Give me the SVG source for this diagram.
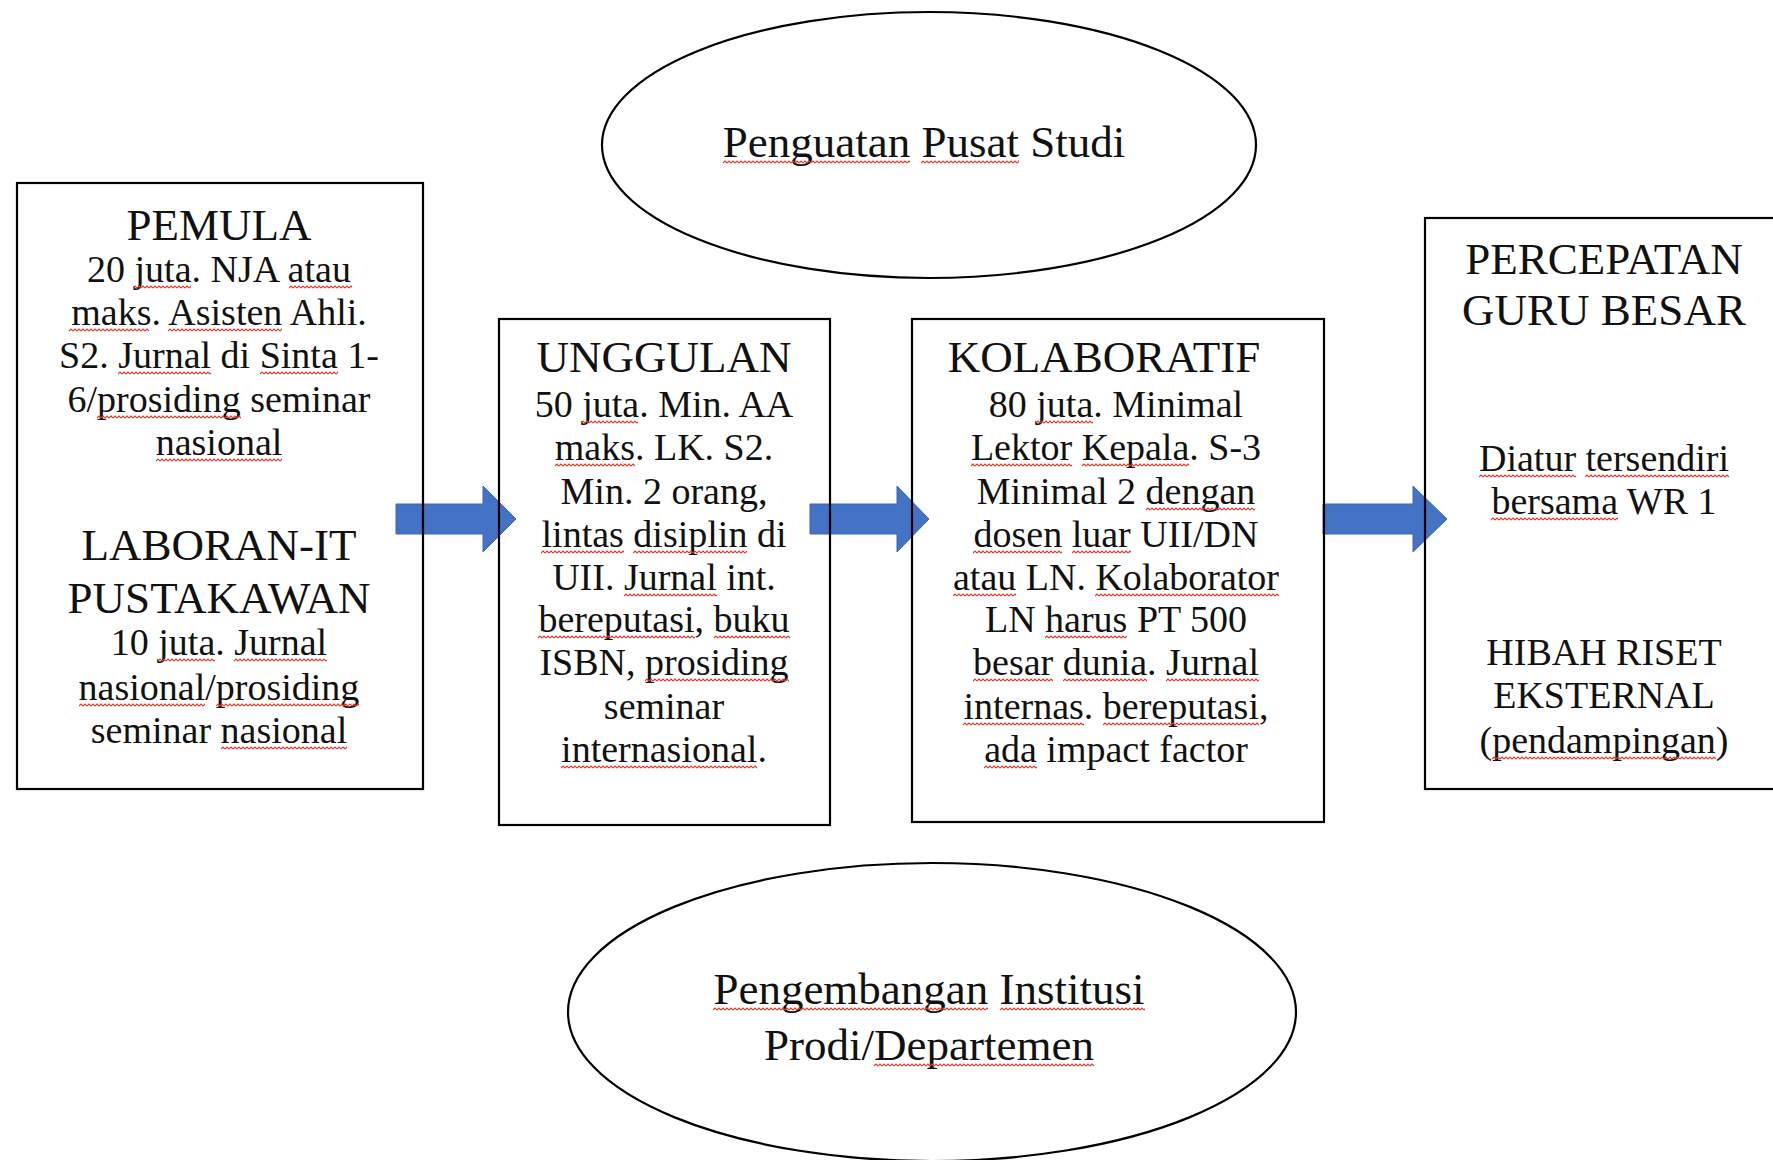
<svg xmlns="http://www.w3.org/2000/svg" width="1773" height="1160" viewBox="0 0 1773 1160">
<defs>
<pattern id="wave" width="4" height="4" patternUnits="userSpaceOnUse">
<polyline points="0,3 2,1 4,3" fill="none" stroke="#e2362b" stroke-width="1.1"/>
</pattern>
</defs>
<style>
.bg{fill:#ffffff}
.box{fill:none;stroke:#000;stroke-width:2.2}
.ell{fill:none;stroke:#000;stroke-width:2.2}
.arr{fill:#4472C4;stroke:#3b66b3;stroke-width:1}
.sq{fill:url(#wave)}
text{font-family:"Liberation Serif","Times New Roman",serif;fill:#111;text-anchor:middle}
.h{font-size:45px}
.b{font-size:38px}
.e{font-size:45px}
</style>
<rect class="bg" x="0" y="0" width="1773" height="1160"/>
<g id="connectors">
<polygon class="arr" points="396,504 483,504 483,486 516,519 483,552 483,534 396,534"/>
<polygon class="arr" points="810,504 897,504 897,486 929,519 897,552 897,534 810,534"/>
<polygon class="arr" points="1323,504 1413,504 1413,486 1447,519 1413,552 1413,534 1323,534"/>
</g>
<g id="pusat-studi">
<ellipse class="ell" cx="929" cy="145" rx="327" ry="133"/>
<text class="e" x="924" y="157">Penguatan Pusat Studi</text>
<rect class="sq" transform="translate(723,160)" width="187" height="4"/>
<rect class="sq" transform="translate(921,160)" width="98" height="4"/>
</g>
<g id="institusi">
<ellipse class="ell" cx="932" cy="1012" rx="364" ry="149"/>
<text class="e" x="929" y="1004">Pengembangan Institusi</text>
<text class="e" x="929" y="1060">Prodi/Departemen</text>
<rect class="sq" transform="translate(713,1007)" width="275" height="4"/>
<rect class="sq" transform="translate(1000,1007)" width="145" height="4"/>
<rect class="sq" transform="translate(874,1063)" width="220" height="4"/>
</g>
<g id="pemula">
<rect class="box" x="17" y="183" width="406" height="606"/>
<text class="h" x="219" y="240">PEMULA</text>
<text class="b" x="219" y="282">20 juta. NJA atau</text>
<text class="b" x="219" y="325">maks. Asisten Ahli.</text>
<text class="b" x="219" y="368">S2. Jurnal di Sinta 1-</text>
<text class="b" x="219" y="412">6/prosiding seminar</text>
<text class="b" x="219" y="455">nasional</text>
<text class="h" x="219" y="560">LABORAN-IT</text>
<text class="h" x="219" y="613">PUSTAKAWAN</text>
<text class="b" x="219" y="655">10 juta. Jurnal</text>
<text class="b" x="219" y="700">nasional/prosiding</text>
<text class="b" x="219" y="743">seminar nasional</text>
<rect class="sq" transform="translate(133,285)" width="58" height="4"/>
<rect class="sq" transform="translate(289,285)" width="63" height="4"/>
<rect class="sq" transform="translate(69,328)" width="80" height="4"/>
<rect class="sq" transform="translate(168,328)" width="114" height="4"/>
<rect class="sq" transform="translate(118,371)" width="93" height="4"/>
<rect class="sq" transform="translate(260,371)" width="78" height="4"/>
<rect class="sq" transform="translate(97,415)" width="144" height="4"/>
<rect class="sq" transform="translate(156,458)" width="126" height="4"/>
<rect class="sq" transform="translate(158,658)" width="57" height="4"/>
<rect class="sq" transform="translate(234,658)" width="93" height="4"/>
<rect class="sq" transform="translate(79,703)" width="126" height="4"/>
<rect class="sq" transform="translate(216,703)" width="143" height="4"/>
<rect class="sq" transform="translate(221,746)" width="126" height="4"/>
</g>
<g id="unggulan">
<rect class="box" x="499" y="319" width="331" height="506"/>
<text class="h" x="664" y="372">UNGGULAN</text>
<text class="b" x="664" y="417">50 juta. Min. AA</text>
<text class="b" x="664" y="460">maks. LK. S2.</text>
<text class="b" x="664" y="504">Min. 2 orang,</text>
<text class="b" x="664" y="547">lintas disiplin di</text>
<text class="b" x="664" y="590">UII. Jurnal int.</text>
<text class="b" x="664" y="632">bereputasi, buku</text>
<text class="b" x="664" y="675">ISBN, prosiding</text>
<text class="b" x="664" y="719">seminar</text>
<text class="b" x="664" y="762">internasional.</text>
<rect class="sq" transform="translate(581,420)" width="57" height="4"/>
<rect class="sq" transform="translate(555,463)" width="80" height="4"/>
<rect class="sq" transform="translate(541,550)" width="83" height="4"/>
<rect class="sq" transform="translate(633,550)" width="114" height="4"/>
<rect class="sq" transform="translate(624,593)" width="93" height="4"/>
<rect class="sq" transform="translate(538,635)" width="157" height="4"/>
<rect class="sq" transform="translate(714,635)" width="76" height="4"/>
<rect class="sq" transform="translate(645,678)" width="144" height="4"/>
<rect class="sq" transform="translate(561,765)" width="196" height="4"/>
</g>
<g id="kolaboratif">
<rect class="box" x="912" y="319" width="412" height="503"/>
<text class="h" x="1104" y="372">KOLABORATIF</text>
<text class="b" x="1116" y="417">80 juta. Minimal</text>
<text class="b" x="1116" y="460">Lektor Kepala. S-3</text>
<text class="b" x="1116" y="504">Minimal 2 dengan</text>
<text class="b" x="1116" y="547">dosen luar UII/DN</text>
<text class="b" x="1116" y="590">atau LN. Kolaborator</text>
<text class="b" x="1116" y="632">LN harus PT 500</text>
<text class="b" x="1116" y="675">besar dunia. Jurnal</text>
<text class="b" x="1116" y="719">internas. bereputasi,</text>
<text class="b" x="1116" y="762">ada impact factor</text>
<rect class="sq" transform="translate(1036,420)" width="57" height="4"/>
<rect class="sq" transform="translate(971,463)" width="101" height="4"/>
<rect class="sq" transform="translate(1082,463)" width="107" height="4"/>
<rect class="sq" transform="translate(1146,507)" width="109" height="4"/>
<rect class="sq" transform="translate(973,550)" width="89" height="4"/>
<rect class="sq" transform="translate(1072,550)" width="59" height="4"/>
<rect class="sq" transform="translate(953,593)" width="63" height="4"/>
<rect class="sq" transform="translate(1095,593)" width="184" height="4"/>
<rect class="sq" transform="translate(1045,635)" width="82" height="4"/>
<rect class="sq" transform="translate(973,678)" width="80" height="4"/>
<rect class="sq" transform="translate(1063,678)" width="84" height="4"/>
<rect class="sq" transform="translate(1166,678)" width="93" height="4"/>
<rect class="sq" transform="translate(963,722)" width="121" height="4"/>
<rect class="sq" transform="translate(1103,722)" width="156" height="4"/>
<rect class="sq" transform="translate(984,765)" width="53" height="4"/>
</g>
<g id="percepatan">
<rect class="box" x="1425" y="218" width="370" height="571"/>
<text class="h" x="1604" y="274">PERCEPATAN</text>
<text class="h" x="1604" y="325">GURU BESAR</text>
<text class="b" x="1604" y="471">Diatur tersendiri</text>
<text class="b" x="1604" y="514">bersama WR 1</text>
<text class="b" x="1604" y="665">HIBAH RISET</text>
<text class="b" x="1604" y="708">EKSTERNAL</text>
<text class="b" x="1604" y="753">(pendampingan)</text>
<rect class="sq" transform="translate(1479,474)" width="97" height="4"/>
<rect class="sq" transform="translate(1585,474)" width="144" height="4"/>
<rect class="sq" transform="translate(1491,517)" width="127" height="4"/>
<rect class="sq" transform="translate(1492,756)" width="224" height="4"/>
</g>
</svg>
